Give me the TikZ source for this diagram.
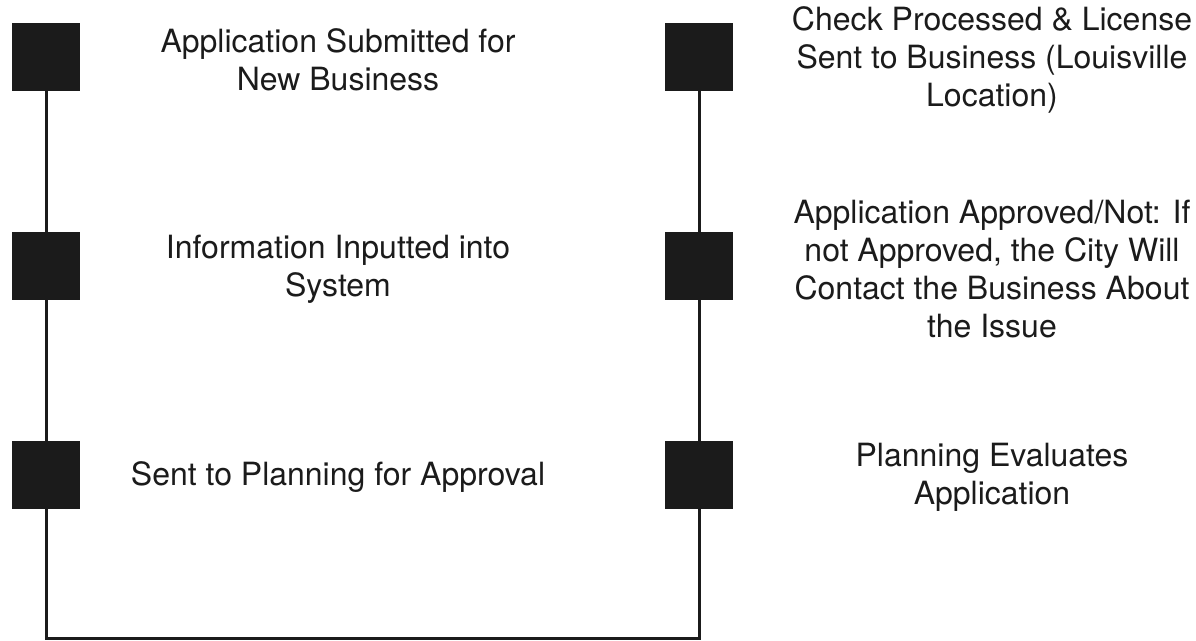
\documentclass[tikz,border=0pt]{standalone}
\usepackage{fontspec}
\setmainfont{TeX Gyre Heros}
\usepackage{xcolor}
\usepackage{tikz}
\definecolor{ink}{HTML}{1B1B1B}

\begin{document}
\begin{tikzpicture}[x=1pt, y=-1pt,
    stepsq/.style={rectangle, fill=ink, minimum size=68pt, inner sep=0pt},
    steptext/.style={align=center, text=ink, inner sep=0pt,
        font=\fontsize{32}{38}\selectfont},
    link/.style={draw=ink, line width=3pt}]
    \useasboundingbox (0,0) rectangle (1196,640);

    \node[stepsq] (S1) at (46,57) {};
    \node[stepsq] (S2) at (46,266) {};
    \node[stepsq] (S3) at (46,475) {};
    \node[stepsq] (S4) at (699,475) {};
    \node[stepsq] (S5) at (699,266) {};
    \node[stepsq] (S6) at (699,57) {};
    \coordinate (base) at (372,638);

    \node[steptext] (T1) at (338,60) {Application Submitted for\\New Business};
    \node[steptext] (T2) at (338,269) {Information Inputted into\\System};
    \node[steptext] (T3) at (338,477) {Sent to Planning for Approval};
    \node[steptext] (T4) at (992,477) {Planning Evaluates\\Application};
    \node[steptext] (T5) at (992,269) {Application Approved/Not: If\\not Approved, the City Will\\Contact the Business About\\the Issue};
    \node[steptext] (T6) at (992,60) {Check Processed \& License\\Sent to Business (Louisville\\Location)};

    \draw[link] (S1) -- (S2);
    \draw[link] (S2) -- (S3);
    \draw[link] (S3) |- (base) -| (S4);
    \draw[link] (S4) -- (S5);
    \draw[link] (S5) -- (S6);
\end{tikzpicture}
\end{document}
